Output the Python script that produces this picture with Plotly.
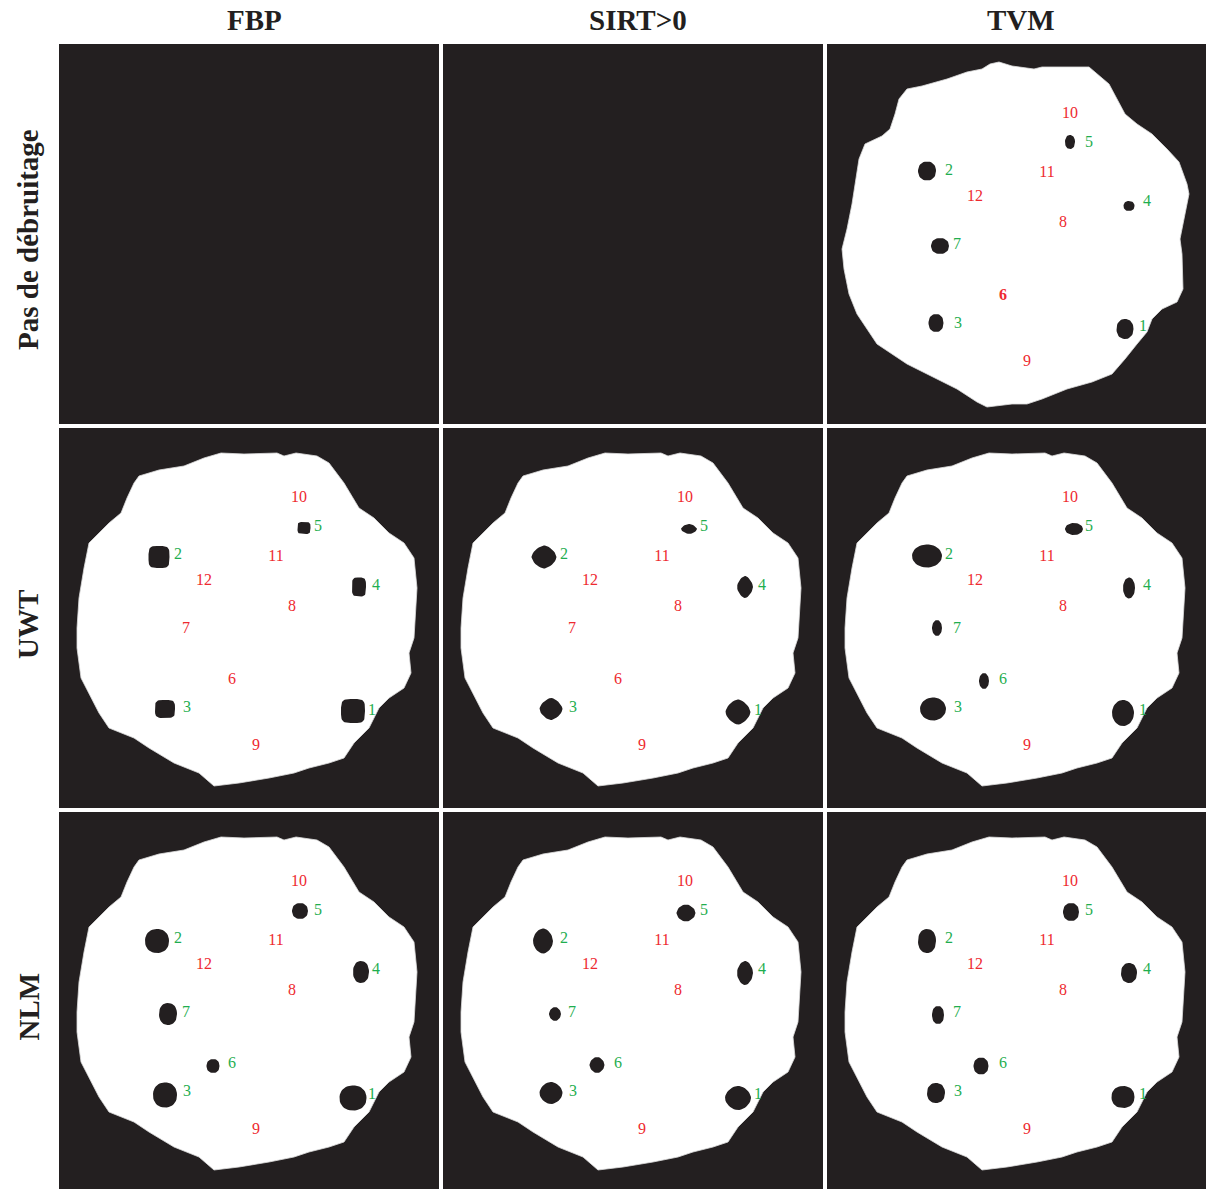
import numpy as np
import plotly.graph_objects as go

# ---------------- data ----------------
COL_TITLES = ["FBP", "SIRT>0", "TVM"]
ROW_TITLES = ["Pas de débruitage", "UWT", "NLM"]

LABEL_IDS = [1, 2, 3, 4, 5, 6, 7, 8, 9, 10, 11, 12]
LABEL_X = [313, 119, 128, 317, 259, 173, 127, 233, 197, 240, 217, 145]
LABEL_Y = [283, 127, 280, 158, 99, 252, 201, 179, 318, 70, 129, 153]

# segmented object outline (panel pixel coordinates), rows 2-3
OUTLINE_X = [162, 185, 218, 225, 237, 258, 270, 285, 300, 315, 330, 345, 355, 358, 355, 350,
             352, 345, 330, 320, 310, 295, 285, 270, 250, 235, 210, 180, 155, 140, 115, 90,
             75, 50, 40, 30, 22, 18, 18, 20, 25, 30, 40, 50, 62, 68, 75, 80, 100, 125, 145]
OUTLINE_Y = [25, 26, 25, 28, 25, 28, 35, 55, 80, 90, 105, 115, 130, 160, 210, 225,
             245, 260, 270, 280, 300, 315, 330, 335, 340, 345, 350, 355, 358, 345, 335, 320,
             310, 300, 285, 265, 250, 220, 200, 170, 140, 115, 105, 95, 85, 70, 55, 48, 42, 38, 30]
# outline for TVM without denoising
OUTLINE_TVM_X = [155, 163, 172, 185, 207, 215, 262, 270, 282, 290, 298, 310, 325, 340, 352, 360,
                 362, 358, 353, 355, 356, 350, 335, 325, 320, 310, 298, 285, 265, 240, 215, 200,
                 185, 160, 150, 130, 110, 80, 65, 50, 40, 30, 22, 17, 15, 20, 25, 28, 32, 38,
                 55, 63, 68, 72, 80, 95, 120, 140]
OUTLINE_TVM_Y = [25, 20, 18, 22, 25, 23, 23, 30, 40, 55, 70, 80, 90, 105, 118, 140,
                 150, 170, 195, 210, 245, 258, 265, 275, 288, 300, 315, 330, 338, 345, 355, 360,
                 360, 363, 358, 345, 335, 320, 310, 300, 285, 270, 250, 225, 205, 185, 160, 140, 115, 100,
                 92, 85, 70, 55, 45, 42, 35, 28]

# holes (detected inclusions) per panel
TVM_NONE_ID = [1, 2, 3, 4, 5, 7]
TVM_NONE_X = [298, 100, 109, 302, 243, 113]
TVM_NONE_Y = [285, 127, 279, 162, 98, 202]
TVM_NONE_RX = [8.5, 9, 7.5, 5.5, 5, 9]
TVM_NONE_RY = [10, 9.5, 9, 5, 7, 8]

FBP_UWT_ID = [1, 2, 3, 4, 5]
FBP_UWT_X = [294, 100, 106, 300, 245]
FBP_UWT_Y = [283, 129, 281, 159, 100]
FBP_UWT_RX = [12, 10.5, 10, 7, 6.5]
FBP_UWT_RY = [12, 11, 9, 9.5, 6]

SIRT_UWT_ID = [1, 2, 3, 4, 5]
SIRT_UWT_X = [295, 101, 108, 302, 246]
SIRT_UWT_Y = [284, 129, 281, 159, 101]
SIRT_UWT_RX = [12.5, 12.5, 11.5, 8, 8]
SIRT_UWT_RY = [12.5, 11.5, 11, 11, 5]

TVM_UWT_ID = [1, 2, 3, 4, 5, 6, 7]
TVM_UWT_X = [296, 100, 106, 302, 247, 157, 110]
TVM_UWT_Y = [285, 128, 281, 160, 101, 253, 200]
TVM_UWT_RX = [11, 15, 13, 6, 9, 5, 5]
TVM_UWT_RY = [13, 11.5, 11.5, 10.5, 6, 8, 8]

FBP_NLM_ID = [1, 2, 3, 4, 5, 6, 7]
FBP_NLM_X = [294, 98, 106, 302, 241, 154, 109]
FBP_NLM_Y = [286, 129, 283, 160, 99, 254, 202]
FBP_NLM_RX = [13.5, 12, 12, 8, 8, 6.5, 9]
FBP_NLM_RY = [12.5, 12, 12.5, 11, 8, 7, 11]

SIRT_NLM_ID = [1, 2, 3, 4, 5, 6, 7]
SIRT_NLM_X = [295, 100, 108, 302, 243, 154, 112]
SIRT_NLM_Y = [286, 129, 281, 161, 101, 253, 202]
SIRT_NLM_RX = [13, 10, 11.5, 8, 9.5, 7.5, 6]
SIRT_NLM_RY = [12, 12.5, 11, 12, 8.5, 8, 7]

TVM_NLM_ID = [1, 2, 3, 4, 5, 6, 7]
TVM_NLM_X = [296, 100, 109, 302, 244, 154, 111]
TVM_NLM_Y = [285, 129, 281, 161, 100, 254, 203]
TVM_NLM_RX = [11.5, 9, 9, 8, 8, 7.5, 6]
TVM_NLM_RY = [11, 12, 10, 10, 9, 8.5, 9]

# ---------------- layout / style ----------------
W, H = 1206, 1189
COL_PX = [(59, 439), (443, 823), (827, 1206)]
ROW_PX = [(44, 424), (428, 808), (812, 1189)]
BG = "#231f20"
GREEN = "#1fae4f"
RED = "#ee2a2f"
LABEL_DX = [0, 2, 3]

# panel specs: (row, col) -> (outline, holes, squareness exponent)
PANELS = {
    (0, 2): ("tvm", (TVM_NONE_ID, TVM_NONE_X, TVM_NONE_Y, TVM_NONE_RX, TVM_NONE_RY), 2.2),
    (1, 0): ("std", (FBP_UWT_ID, FBP_UWT_X, FBP_UWT_Y, FBP_UWT_RX, FBP_UWT_RY), 4.0),
    (1, 1): ("std", (SIRT_UWT_ID, SIRT_UWT_X, SIRT_UWT_Y, SIRT_UWT_RX, SIRT_UWT_RY), 1.6),
    (1, 2): ("std", (TVM_UWT_ID, TVM_UWT_X, TVM_UWT_Y, TVM_UWT_RX, TVM_UWT_RY), 2.0),
    (2, 0): ("std", (FBP_NLM_ID, FBP_NLM_X, FBP_NLM_Y, FBP_NLM_RX, FBP_NLM_RY), 2.2),
    (2, 1): ("std", (SIRT_NLM_ID, SIRT_NLM_X, SIRT_NLM_Y, SIRT_NLM_RX, SIRT_NLM_RY), 1.8),
    (2, 2): ("std", (TVM_NLM_ID, TVM_NLM_X, TVM_NLM_Y, TVM_NLM_RX, TVM_NLM_RY), 2.2),
}

fig = go.Figure()
t = np.linspace(0, 2 * np.pi, 40)

for r in range(3):
    for c in range(3):
        k = r * 3 + c + 1
        sx = "" if k == 1 else str(k)
        x0, x1 = COL_PX[c]
        y0, y1 = ROW_PX[r]
        fig.layout["xaxis" + sx] = dict(domain=[x0 / W, x1 / W], range=[0, x1 - x0],
                                        visible=False, fixedrange=True, anchor="y" + sx)
        fig.layout["yaxis" + sx] = dict(domain=[1 - y1 / H, 1 - y0 / H], range=[y1 - y0, 0],
                                        visible=False, fixedrange=True, anchor="x" + sx)
        # background of the panel
        fig.add_trace(go.Scatter(x=[0, x1 - x0, x1 - x0, 0, 0], y=[0, 0, y1 - y0, y1 - y0, 0],
                                 fill="toself", fillcolor=BG, line=dict(width=0), mode="lines",
                                 hoverinfo="skip", showlegend=False, xaxis="x" + sx, yaxis="y" + sx))
        if (r, c) not in PANELS:
            continue
        kind, holes, sq = PANELS[(r, c)]
        ox, oy = (OUTLINE_TVM_X, OUTLINE_TVM_Y) if kind == "tvm" else (OUTLINE_X, OUTLINE_Y)
        fig.add_trace(go.Scatter(x=ox + [ox[0]], y=oy + [oy[0]], fill="toself", fillcolor="white",
                                 line=dict(width=0.8, color="#dddddd"), mode="lines",
                                 hoverinfo="skip", showlegend=False, xaxis="x" + sx, yaxis="y" + sx))
        ids, hx, hy, hrx, hry = holes
        xs, ys = [], []
        e = 2.0 / sq
        for cx, cy, rx, ry in zip(hx, hy, hrx, hry):
            ct, st = np.cos(t), np.sin(t)
            xs += list(cx + rx * np.sign(ct) * np.abs(ct) ** e) + [None]
            ys += list(cy + ry * np.sign(st) * np.abs(st) ** e) + [None]
        fig.add_trace(go.Scatter(x=xs, y=ys, fill="toself", fillcolor=BG, line=dict(width=0),
                                 mode="lines", hoverinfo="skip", showlegend=False,
                                 xaxis="x" + sx, yaxis="y" + sx))
        texts, colors = [], []
        for lid in LABEL_IDS:
            det = lid in ids
            colors.append(GREEN if det else RED)
            if kind == "tvm" and lid == 6:
                texts.append("<b>6</b>")
            else:
                texts.append(str(lid))
        fig.add_trace(go.Scatter(x=[v + LABEL_DX[c] for v in LABEL_X], y=LABEL_Y, mode="text",
                                 text=texts, textposition="middle center",
                                 textfont=dict(family="Liberation Serif", size=16, color=colors),
                                 hoverinfo="skip", showlegend=False, xaxis="x" + sx, yaxis="y" + sx))

ann = []
for c, title in enumerate(COL_TITLES):
    x0, x1 = COL_PX[c]
    ann.append(dict(text="<b>" + title + "</b>", x=((x0 + x1) / 2 + 5) / W, y=1 - 20 / H,
                    xref="paper", yref="paper", showarrow=False, xanchor="center", yanchor="middle",
                    font=dict(family="Liberation Serif", size=29, color="#231f20")))
for r, title in enumerate(ROW_TITLES):
    y0, y1 = ROW_PX[r]
    ann.append(dict(text="<b>" + title + "</b>", x=28 / W, y=1 - ((y0 + y1) / 2 + 6) / H,
                    xref="paper", yref="paper", showarrow=False, xanchor="center", yanchor="middle",
                    textangle=-90, font=dict(family="Liberation Serif", size=29, color="#231f20")))

fig.update_layout(width=W, height=H, margin=dict(l=0, r=0, t=0, b=0),
                  paper_bgcolor="white", plot_bgcolor="white", annotations=ann)
fig.write_html("out.html", config={"displayModeBar": False},
               post_script="document.body.style.margin='0';document.body.style.overflow='hidden';")
